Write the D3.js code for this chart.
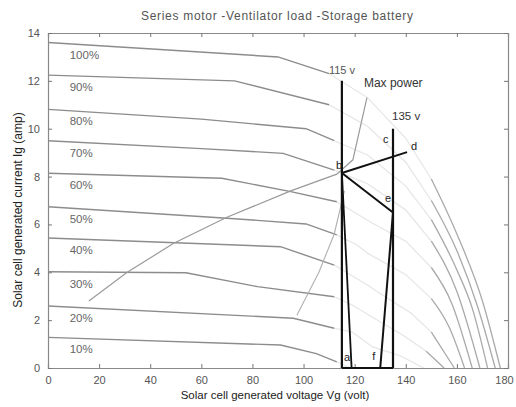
<!DOCTYPE html>
<html>
<head>
<meta charset="utf-8">
<script src="https://cdn.jsdelivr.net/npm/d3@7"></script>
<style>
  html, body { margin: 0; padding: 0; background: #fff; }
  svg { display: block; }
  text { font-family: "Liberation Sans", Arial, sans-serif; }
</style>
</head>
<body>
<svg id="chart" width="516" height="407"></svg>
<script>
// ---------------- data ----------------
const titleText = "Series motor -Ventilator load -Storage battery";
const xLabelText = "Solar cell generated voltage Vg (volt)";
const yLabelText = "Solar cell generated current Ig  (amp)";
const xTicks = [0, 20, 40, 60, 80, 100, 120, 140, 160, 180];
const yTicks = [0, 2, 4, 6, 8, 10, 12, 14];

const levels = ["100%", "90%", "80%", "70%", "60%", "50%", "40%", "30%", "20%", "10%"];
// I-V curves [volt, amp]
const curve100 = [[0,13.6],[90,13.0],[110,12.3],[125,11.3],[140,9.6],[150,7.9],[160,5.6],[170,2.8],[177,0]];
const curve90  = [[0,12.24],[73,12.0],[110,11.0],[125,10.1],[140,8.6],[150,7.0],[160,4.9],[168,2.6],[175,0]];
const curve80  = [[0,10.81],[60,10.4],[101,10.0],[112,9.5],[125,8.9],[140,7.6],[150,6.2],[160,4.1],[166,2.5],[172,0]];
const curve70  = [[0,9.5],[60,9.17],[92,8.97],[112,8.27],[125,7.7],[140,6.6],[150,5.3],[160,3.2],[169,0]];
const curve60  = [[0,8.14],[68,7.93],[95,7.37],[113,6.95],[120,6.5],[127,6.05],[140,5.3],[150,4.2],[158,2.7],[166,0]];
const curve50  = [[0,6.74],[70,6.26],[101,6.02],[113,5.56],[121,5.14],[125,4.8],[140,3.9],[150,2.9],[157,1.7],[163,0]];
const curve40  = [[0,5.43],[91,5.07],[112,4.3],[125,3.47],[129,3.18],[142,2.3],[150,1.5],[159,0]];
const curve30  = [[0,4.02],[54,3.98],[82,3.4],[112,2.98],[119,2.63],[129,2.0],[140,1.3],[148,0.7],[155,0]];
const curve20  = [[0,2.59],[96,2.08],[112,1.66],[119,1.5],[127,0.88],[138,0.5],[147,0]];
const curve10  = [[0,1.28],[91,0.96],[105,0.6],[113,0.26],[118,0]];
const ivCurves = [curve100, curve90, curve80, curve70, curve60, curve50, curve40, curve30, curve20, curve10];

const maxPowerLocus = [[16,2.8],[31,4.0],[49,5.2],[70,6.3],[95,7.4],[113,8.1],[119.3,8.7],[124.8,11.3]];
const loadLine = [[97.4,2.2],[106,4.0],[112,5.6],[116,7.4]];

// operating points
const ptA = [118.8, 0], ptB = [115, 8.15], ptD = [140.5, 9.02], ptE = [135, 6.5], ptF = [130, 0];
const v115Line = [[115, 12], [115, 0]];
const v135Line = [[135, 10], [135, 0]];
const bottomLine = [[115, 0], [135, 0]];

// ---------------- drawing ----------------
const svg = d3.select("#chart");
const x = d3.scaleLinear().domain([0, 180]).range([48, 508]);
const y = d3.scaleLinear().domain([0, 14]).range([368, 33]);
const line = d3.line().x(d => x(d[0])).y(d => y(d[1]));
const smooth = d3.line().x(d => x(d[0])).y(d => y(d[1])).curve(d3.curveMonotoneX);

// axes box with inward ticks (matlab style)
const gx = svg.append("g").attr("transform", `translate(0,${y(0)})`)
  .call(d3.axisBottom(x).tickValues(xTicks).tickSize(-4).tickPadding(8));
const gxt = svg.append("g").attr("transform", `translate(0,${y(14)})`)
  .call(d3.axisTop(x).tickValues(xTicks).tickSize(-4).tickFormat(""));
const gy = svg.append("g").attr("transform", `translate(${x(0)},0)`)
  .call(d3.axisLeft(y).tickValues(yTicks).tickSize(-4).tickPadding(8));
const gyr = svg.append("g").attr("transform", `translate(${x(180)},0)`)
  .call(d3.axisRight(y).tickValues(yTicks).tickSize(-4).tickFormat(""));
[gx, gxt, gy, gyr].forEach(g => {
  g.select(".domain").attr("stroke", "#888").attr("stroke-width", 1.2);
  g.selectAll(".tick line").attr("stroke", "#777");
  g.selectAll(".tick text").attr("fill", "#555").style("font-size", "11px");
});
gx.selectAll(".tick text").filter(d => d === 180).attr("dx", "-4");

// I-V curves: clear left of 115 V, faint across the middle band, lighter steep tails
ivCurves.forEach((c, i) => {
  const mid = c.filter(d => d[0] >= 110 && d[0] <= 150);
  if (mid.length > 1) {
    svg.append("path").attr("d", line(mid)).attr("fill", "none")
      .attr("stroke", "#aaa").attr("stroke-width", 1.2).attr("stroke-opacity", 0.3);
  }
  const left = c.filter(d => d[0] <= 113);
  svg.append("path").attr("d", line(left)).attr("fill", "none")
    .attr("stroke", "#8c8c8c").attr("stroke-width", 1.4);
  const right = c.filter(d => d[0] >= 145 && d[1] <= 8);
  if (right.length > 1) {
    svg.append("path").attr("d", smooth(right)).attr("fill", "none")
      .attr("stroke", "#aaa").attr("stroke-width", 1.3);
  }
  svg.append("text").attr("x", x(8.5)).attr("y", y(c[0][1]) + 16)
    .attr("fill", "#666").style("font-size", "11.5px").text(levels[i]);
});

// max power locus and load line (gray)
svg.append("path").attr("d", line(maxPowerLocus)).attr("fill", "none")
  .attr("stroke", "#9a9a9a").attr("stroke-width", 1.2);
svg.append("path").attr("d", line(loadLine)).attr("fill", "none")
  .attr("stroke", "#b0b0b0").attr("stroke-width", 1.1);

// black operating lines
const blk = (pts, w) => svg.append("path").attr("d", line(pts)).attr("fill", "none")
  .attr("stroke", "#111").attr("stroke-width", w || 2);
blk(v115Line, 2.2);
blk(v135Line, 2.2);
blk([ptB, ptA], 1.8);
blk(bottomLine, 2);
blk([ptE, ptF], 2);
blk([ptB, ptD], 2);
blk([ptB, ptE], 2);

// annotations
const ann = (t, vx, vy, dx, dy, size, col) => svg.append("text")
  .attr("x", x(vx) + dx).attr("y", y(vy) + dy)
  .attr("fill", col || "#222").style("font-size", (size || 11) + "px").text(t);
ann("115 v", 115, 12, -13, -7, 11, "#555");
ann("Max power", 124.8, 11.3, -3, -11, 12, "#333");
ann("135 v", 135, 10, -1, -9, 11.5, "#333");
ann("c", 135, 8.77, -10, -15, 11);
ann("d", 140.5, 9.02, 4, -2, 11);
ann("b", 115, 8.15, -6, -4, 11);
ann("e", 135, 6.5, -8, -10, 11);
ann("a", 115, 0, 2, -7, 11);
ann("f", 130, 0, -8, -8, 11);

// titles
svg.append("text").attr("x", 277).attr("y", 20).attr("text-anchor", "middle")
  .attr("textLength", 272).attr("lengthAdjust", "spacing")
  .attr("fill", "#555").style("font-size", "12px").text(titleText);
svg.append("text").attr("x", 275).attr("y", 399).attr("text-anchor", "middle")
  .attr("fill", "#222").style("font-size", "11.5px").text(xLabelText);
svg.append("text").attr("transform", "translate(22,210) rotate(-90)").attr("text-anchor", "middle")
  .attr("fill", "#222").style("font-size", "12px").text(yLabelText);
</script>
</body>
</html>
